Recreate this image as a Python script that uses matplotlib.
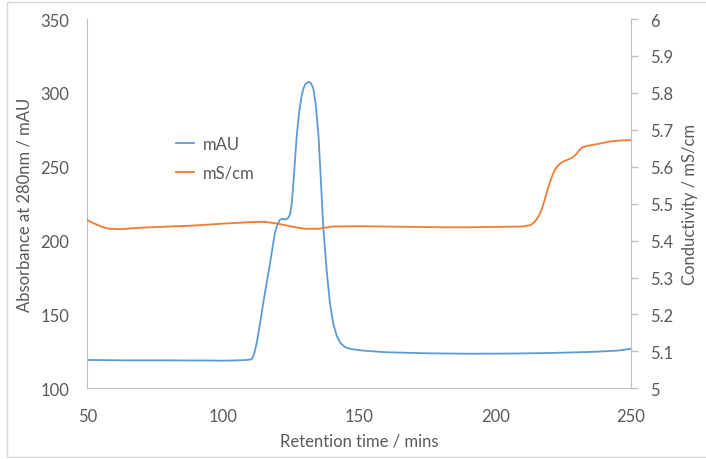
import matplotlib.pyplot as plt
from matplotlib.patches import Rectangle

plt.rcParams['font.family'] = ['Lato', 'DejaVu Sans']

# blue trace: absorbance at 280 nm (mAU)
time_mau = [50, 65, 80, 95, 100, 105, 108, 110.4, 111.3, 112.3, 113.5, 114.7, 117.2,
            119, 120, 120.8, 121.8, 122.7, 123.7, 124.5, 125.1, 125.7, 126.3, 127,
            127.9, 128.8, 129.5, 130.2, 131.3, 132.2, 133.1, 134, 135, 135.9, 136.8,
            138, 139.2, 140.4, 141.7, 143, 144.8, 147, 151.5, 160, 175, 190, 205,
            220, 235, 245, 250]
mau = [119.2, 118.9, 118.9, 118.8, 118.7, 118.9, 119.1, 119.6, 123, 131, 144, 158, 185,
       205.6, 211.5, 214, 214.8, 214.2, 215, 217.5, 224, 237, 253, 271,
       287, 298, 303, 306, 307.5, 306.5, 303, 292, 271, 240, 208,
       180, 158, 144, 135.6, 130.8, 127.8, 126.5, 125.5, 124.4, 123.7, 123.4, 123.5,
       123.9, 124.6, 125.5, 126.7]

# orange trace: conductivity (mS/cm)
time_cond = [50, 52, 55, 58, 62, 70, 80, 90, 100, 110, 115, 120, 125, 130, 135, 140,
             150, 160, 170, 180, 190, 200, 210, 213, 214, 215, 216, 217, 218, 219,
             220, 221, 222, 223, 224, 225, 227, 228.5, 230, 231, 232, 233.5, 235,
             238, 242, 246, 250]
cond = [5.455, 5.448, 5.438, 5.432, 5.431, 5.435, 5.438, 5.441, 5.446, 5.450, 5.451,
        5.446, 5.438, 5.432, 5.432, 5.438, 5.439, 5.438, 5.437, 5.436, 5.436, 5.437,
        5.438, 5.442, 5.447, 5.455, 5.466, 5.482, 5.505, 5.53, 5.555, 5.575, 5.592,
        5.602, 5.609, 5.614, 5.620, 5.625, 5.635, 5.645, 5.652, 5.656, 5.658,
        5.662, 5.668, 5.671, 5.672]

left_ticks = [100, 150, 200, 250, 300, 350]
right_ticks = [5, 5.1, 5.2, 5.3, 5.4, 5.5, 5.6, 5.7, 5.8, 5.9, 6]
right_labels = ['5', '5.1', '5.2', '5.3', '5.4', '5.5', '5.6', '5.7', '5.8', '5.9', '6']
x_ticks = [50, 100, 150, 200, 250]

TXT = '#595959'
AXC = '#bfbfbf'
BLUE = '#5b9bd5'
ORANGE = '#ed7d31'

fig = plt.figure(figsize=(7.06, 4.6), dpi=100)
ax = fig.add_axes([0.1239, 0.1537, 0.7699, 0.8028])
ax2 = ax.twinx()

l1, = ax.plot(time_mau, mau, color=BLUE, lw=1.3, label='mAU')
l2, = ax2.plot(time_cond, cond, color=ORANGE, lw=1.3, label='mS/cm')

ax.set_xlim(50, 250)
ax.set_ylim(100, 350)
ax2.set_ylim(5, 6)
ax.set_xticks(x_ticks)
ax.set_yticks(left_ticks)
ax2.set_yticks(right_ticks)
ax2.set_yticklabels(right_labels)

for a in (ax, ax2):
    for s in a.spines.values():
        s.set_color(AXC)
    a.spines['top'].set_visible(False)
ax.spines['right'].set_visible(False)
ax2.spines['left'].set_visible(False)
ax2.spines['bottom'].set_visible(False)

ax.tick_params(axis='x', length=0, pad=14, labelsize=12, labelcolor=TXT)
ax.tick_params(axis='y', length=0, pad=13, labelsize=12, labelcolor=TXT)
ax2.tick_params(axis='y', length=5, width=1, color=AXC, pad=9, labelsize=12, labelcolor=TXT)

ax.set_xlabel('Retention time / mins', color=TXT, fontsize=12, labelpad=6)
ax.set_ylabel('Absorbance at 280nm / mAU', color=TXT, fontsize=12, labelpad=6)
ax2.set_ylabel('Conductivity / mS/cm', color=TXT, fontsize=12, labelpad=6)

leg = ax.legend(handles=[l1, l2], loc='upper left', bbox_to_anchor=(0.135, 0.725),
                frameon=False, fontsize=12, handlelength=1.1, handletextpad=0.5,
                labelspacing=0.8)
for t in leg.get_texts():
    t.set_color(TXT)

fig.patches.append(Rectangle((7 / 706, 2 / 460), 1.0, (455 / 460), transform=fig.transFigure,
                             fill=False, edgecolor='#d9d9d9', lw=1))

fig.savefig('out.png', dpi=100)
